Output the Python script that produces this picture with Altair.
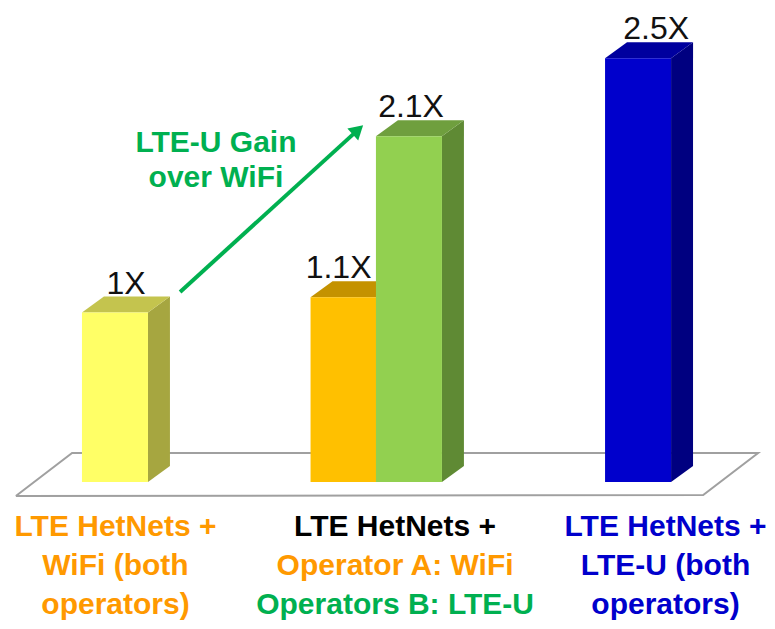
import altair as alt
import pandas as pd
import math

# ---------------- data ----------------
bars = ["wifi_both", "opA_wifi", "opB_lteu", "lteu_both"]
bar_group_pos = [0.0, 0.874, 1.124, 2.0]          # category position (group units)
bar_heights = [1.0, 1.09, 2.04, 2.5]               # relative capacity
bar_labels = ["1X", "1.1X", "2.1X", "2.5X"]

col_lines_1 = ["LTE HetNets +", "WiFi (both", "operators)"]
col_lines_2 = ["LTE HetNets +", "Operator A: WiFi", "Operators B: LTE-U"]
col_lines_3 = ["LTE HetNets +", "LTE-U (both", "operators)"]
gain_lines = ["LTE-U Gain", "over WiFi"]

# ---------------- style ----------------
ORANGE_T, GREEN_T, BLUE_T, BLACK = "#FF9900", "#00B050", "#0000CC", "#000000"
front_col = ["#FFFF66", "#FFC000", "#92D050", "#0000CC"]
side_col = ["#A6A640", "#9C7400", "#5F8A34", "#000080"]
top_col = ["#C4C44E", "#C49200", "#6F9F3E", "#00009E"]
col_colors = [[ORANGE_T] * 3, [BLACK, ORANGE_T, GREEN_T], [BLUE_T] * 3]
col_x = [0.002, 1.071, 2.105]
label_nudge = [0.0, -0.061, -0.034, 0.027]
half_w = 0.1262      # half bar width (group units)
dx = 0.084           # 3D depth, x
dy = 0.094           # 3D depth, y
floor_x = [-0.379, -0.164, 2.459, 2.249, -0.379]
floor_y = [-0.083, 0.171, 0.171, -0.077, -0.083]
FONT = "Liberation Sans, Arial, sans-serif"

W, H = 759, 613
xs = alt.Scale(domain=[-0.409, 2.493], nice=False, zero=False)
ys = alt.Scale(domain=[-0.820, 2.796], nice=False, zero=False)
X = lambda f: alt.X(f, type="quantitative", scale=xs, axis=None)
Y = lambda f: alt.Y(f, type="quantitative", scale=ys, axis=None)

# front faces
front = pd.DataFrame({
    "bar": bars,
    "l": [p - half_w for p in bar_group_pos],
    "r": [p + half_w for p in bar_group_pos],
    "v": bar_heights,
    "c": front_col,
})
front["z"] = 0.0

# side faces
side_rows = []
for b, p, v, c in zip(bars, bar_group_pos, bar_heights, side_col):
    r = p + half_w
    side_rows.append({"bar": b, "x": r, "y": 0.0, "y2": v, "c": c})
    side_rows.append({"bar": b, "x": r + dx, "y": dy, "y2": v + dy, "c": c})
side = pd.DataFrame(side_rows)

# top faces
top_rows = []
for b, p, v, c in zip(bars, bar_group_pos, bar_heights, top_col):
    l, r = p - half_w, p + half_w
    top_rows += [
        {"bar": b, "x": l, "y": v, "y2": v, "c": c},
        {"bar": b, "x": l + dx, "y": v, "y2": v + dy, "c": c},
        {"bar": b, "x": r, "y": v, "y2": v + dy, "c": c},
        {"bar": b, "x": r + dx, "y": v + dy, "y2": v + dy, "c": c},
    ]
top = pd.DataFrame(top_rows)

labels = pd.DataFrame({
    "x": [p + dx / 2 + n for p, n in zip(bar_group_pos, label_nudge)],
    "y": [v + dy for v in bar_heights],
    "t": bar_labels,
})

floor = pd.DataFrame({"x": floor_x, "y": floor_y, "o": list(range(len(floor_x)))})

# arrow from the WiFi bar toward the LTE-U bar
arrow_start = (0.249, 1.121)
arrow_end = (0.929, 2.077)
arrow = pd.DataFrame({"x": [arrow_start[0], arrow_end[0]], "y": [arrow_start[1], arrow_end[1]]})
px_dx = (arrow_end[0] - arrow_start[0]) * 261.5
px_dy = (arrow_end[1] - arrow_start[1]) * 169.5
head_angle = math.degrees(math.atan2(px_dx, px_dy))
head = pd.DataFrame({"x": [arrow_end[0]], "y": [arrow_end[1]]})

gain = pd.DataFrame({"x": [0.386, 0.386], "y": [2.0, 1.793], "t": gain_lines})

cat_rows = []
for ci, (lines, cols) in enumerate(zip([col_lines_1, col_lines_2, col_lines_3], col_colors)):
    for li, (t, c) in enumerate(zip(lines, cols)):
        cat_rows.append({"x": col_x[ci], "y": (482 - (527 + 39 * li)) / 169.5, "t": t, "c": c})
cats = pd.DataFrame(cat_rows)

floor_layer = alt.Chart(floor).mark_line(color="#A0A0A0", strokeWidth=2).encode(
    x=X("x"), y=Y("y"), order="o:O")

side_layer = alt.Chart(side).mark_area(orient="vertical").encode(
    x=X("x"), y=Y("y"), y2="y2", detail="bar:N", color=alt.Color("c:N", scale=None))

top_layer = alt.Chart(top).mark_area(orient="vertical").encode(
    x=X("x"), y=Y("y"), y2="y2", detail="bar:N", color=alt.Color("c:N", scale=None))

front_layer = alt.Chart(front).mark_rect().encode(
    x=X("l"), x2="r", y=Y("z"), y2="v", color=alt.Color("c:N", scale=None))

label_layer = alt.Chart(labels).mark_text(
    font=FONT, fontSize=32, baseline="alphabetic", dy=-3, color="#111111").encode(
    x=X("x"), y=Y("y"), text="t:N")

arrow_layer = alt.Chart(arrow).mark_line(color=GREEN_T, strokeWidth=4).encode(
    x=X("x"), y=Y("y"))
head_layer = alt.Chart(head).mark_point(
    shape="triangle-up", filled=True, size=260, opacity=1, color=GREEN_T,
    angle=round(head_angle % 360, 1)).encode(x=X("x"), y=Y("y"))

gain_layer = alt.Chart(gain).mark_text(
    font=FONT, fontSize=30, fontWeight="bold", color=GREEN_T, baseline="middle").encode(
    x=X("x"), y=Y("y"), text="t:N")

cat_layer = alt.Chart(cats).mark_text(
    font=FONT, fontSize=30, fontWeight="bold", baseline="middle").encode(
    x=X("x"), y=Y("y"), text="t:N", color=alt.Color("c:N", scale=None))

chart = alt.layer(
    floor_layer, side_layer, top_layer, front_layer, label_layer,
    arrow_layer, head_layer, gain_layer, cat_layer
).properties(width=W, height=H, autosize="none", padding=0).configure_view(stroke=None)

chart.save("out.html", embed_options={"renderer": "svg", "actions": False})
